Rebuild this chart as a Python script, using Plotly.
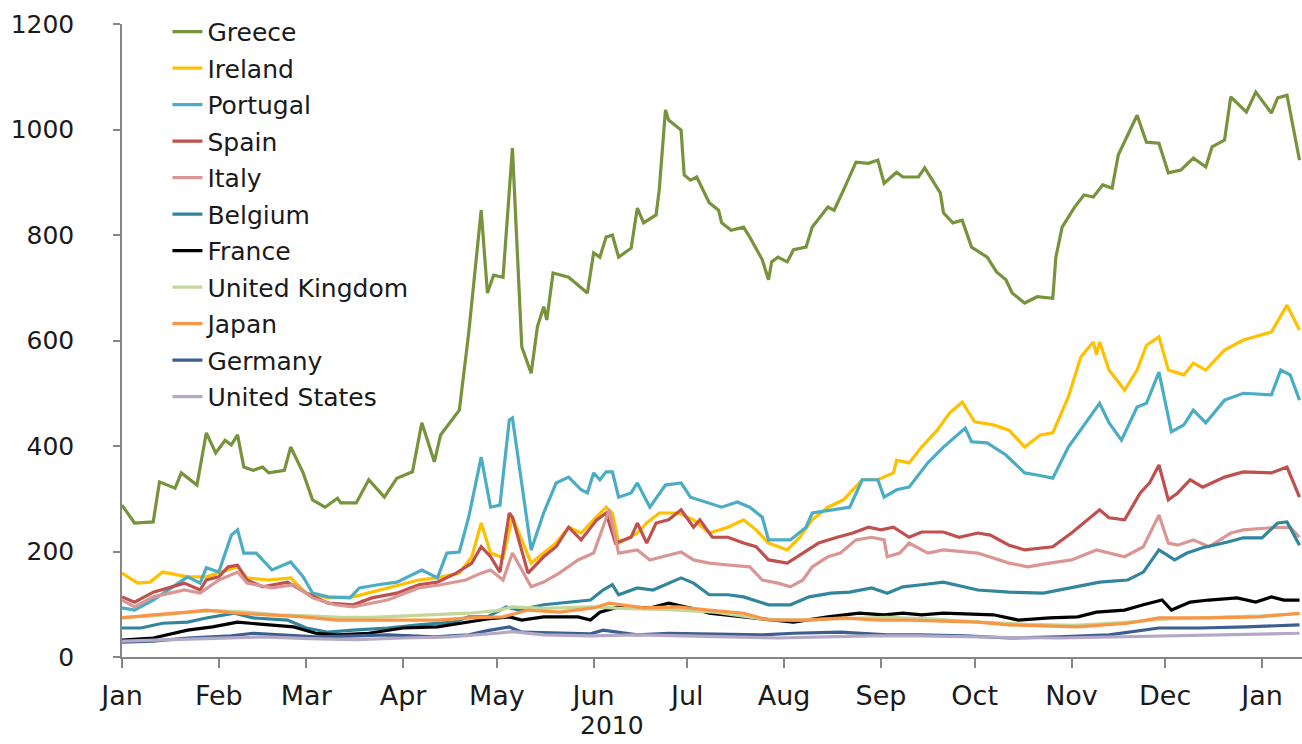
import pandas as pd
import plotly.graph_objects as go

# ---- data (days since 2010-01-01, spread in basis points) ----
greece_days = [0,4,10,12,17,19,24,27,30,33,35,37,39,42,45,47,52,54,58,61,65,69,70,75,79,84,88,93,96,100,102,108,111,115,117,119,122,125,128,131,133,135,136,138,143,149,151,153,155,157,159,163,165,167,171,172,174,175,179,180,182,184,188,191,192,195,199,201,205,207,208,210,213,215,219,221,226,228,231,235,239,242,244,248,250,255,257,262,263,266,269,272,277,280,283,285,289,293,298,299,301,305,308,311,314,317,319,325,328,332,335,339,343,347,349,353,355,360,363,368,370,373,377]
greece_vals = [288,254,256,332,320,349,326,425,387,411,402,421,360,354,360,349,354,398,349,298,284,301,292,292,336,303,339,351,444,370,421,468,614,847,690,724,720,965,588,538,626,664,639,728,720,690,766,758,796,800,758,775,851,823,838,885,1037,1018,999,914,904,910,861,847,823,809,815,796,753,715,749,758,749,772,777,815,853,847,885,938,936,942,898,919,910,910,927,880,842,823,828,777,758,730,715,690,671,683,680,758,815,853,876,872,895,889,952,1027,976,974,918,923,946,929,967,980,1062,1033,1071,1031,1060,1065,942]

ireland_days = [0,5,9,13,21,27,37,40,47,54,59,66,74,85,95,101,108,112,115,118,122,125,131,135,139,143,147,151,155,157,159,165,168,172,178,183,188,194,199,203,207,213,217,221,226,231,237,242,247,248,252,256,261,265,269,273,279,284,289,294,298,303,307,311,312,313,316,321,325,328,332,335,340,343,347,353,359,368,373,377]
ireland_vals = [159,140,142,161,152,152,171,150,146,150,121,112,114,131,146,150,159,190,254,197,188,265,178,197,216,246,235,260,284,273,216,235,254,273,273,260,235,246,260,241,216,203,227,260,284,298,336,336,349,373,368,398,430,463,483,446,440,430,398,421,425,493,569,597,573,597,544,506,544,591,607,544,535,557,544,582,601,616,667,620]

portugal_days = [0,4,10,21,25,27,31,35,37,39,43,48,54,58,61,66,73,76,82,88,96,101,104,108,111,115,118,121,124,125,131,135,139,143,147,149,151,153,155,157,159,163,165,169,174,179,182,188,192,197,201,205,207,214,219,221,227,233,237,242,244,248,252,258,263,270,272,277,283,289,293,298,303,309,313,316,320,325,328,332,336,340,343,347,353,359,368,371,374,377]
portugal_vals = [93,89,108,152,140,169,161,231,241,197,197,165,180,152,121,114,112,131,137,142,165,150,197,199,265,379,284,288,449,453,203,273,330,341,317,311,349,336,351,351,303,311,330,284,326,330,303,292,284,294,284,265,222,222,246,273,279,284,336,336,303,317,322,368,398,434,408,406,383,349,345,339,398,449,481,444,411,474,481,540,427,440,468,444,487,500,497,544,535,487]

spain_days = [0,4,10,15,20,25,27,31,34,37,40,45,53,59,66,74,80,88,95,101,107,112,115,118,121,124,125,130,135,139,143,147,152,155,158,163,165,168,171,175,179,183,185,189,194,199,203,207,213,218,223,229,234,239,243,247,250,252,256,263,268,274,278,284,289,295,298,304,309,313,316,321,326,329,332,335,338,342,346,353,359,368,373,377]
spain_vals = [114,104,123,131,140,127,146,152,171,174,146,133,142,121,102,99,112,121,137,142,159,178,209,190,161,273,265,159,190,209,246,222,260,273,216,227,254,216,254,260,279,246,260,227,227,216,209,184,178,197,216,227,235,246,241,246,235,227,237,237,227,235,231,212,203,207,209,235,260,279,264,260,311,330,364,298,311,336,322,341,351,349,360,303]

italy_days = [0,4,10,20,25,31,37,40,48,55,61,68,74,85,95,102,110,115,118,122,125,131,135,140,146,151,156,159,165,169,173,179,183,188,195,201,205,210,214,218,221,226,230,235,240,244,245,249,252,258,263,274,284,290,297,304,312,321,327,332,335,338,343,348,355,359,368,374,377]
italy_vals = [108,95,114,127,121,146,161,140,131,137,112,99,95,108,131,137,146,159,165,146,197,133,142,159,184,197,279,197,203,184,190,199,184,178,174,171,146,140,133,146,171,190,197,222,227,222,190,197,216,197,203,197,178,171,178,184,203,190,209,269,216,212,222,209,235,241,245,246,227]

belgium_days = [0,6,13,21,27,36,42,53,59,66,74,85,95,106,111,117,123,127,135,143,150,154,157,159,165,170,175,179,183,188,194,199,207,214,220,227,233,240,245,250,256,263,274,284,295,304,313,322,327,332,337,341,346,354,359,365,370,373,377]
belgium_vals = [55,55,64,66,74,83,74,70,55,47,51,55,61,66,76,76,95,89,99,104,108,127,137,118,131,127,140,150,140,118,118,114,99,99,114,121,123,131,121,133,137,142,127,123,121,131,142,146,161,203,184,197,207,218,226,226,254,256,212]

france_days = [0,10,21,29,37,47,55,62,69,79,90,101,111,117,124,128,135,146,150,153,159,169,175,182,188,199,207,215,226,236,244,250,256,263,279,287,297,306,312,321,327,333,336,342,348,357,363,368,372,377]
france_vals = [32,36,51,57,66,61,57,45,42,45,55,57,66,72,76,70,76,76,70,85,95,93,102,93,83,76,70,66,76,83,80,83,80,83,80,70,74,76,85,89,99,108,89,104,108,112,104,114,108,108]

uk_days = [0,10,21,30,40,50,60,70,80,90,100,111,120,125,135,150,160,175,190,205,215,230,245,260,275,290,305,320,335,350,365,377]
uk_vals = [75,78,85,88,85,80,78,75,75,78,80,83,88,95,92,95,92,90,85,72,70,72,75,72,66,62,60,65,72,75,78,82]

japan_days = [0,10,21,27,37,47,58,69,79,90,101,111,122,130,140,151,156,167,178,188,199,207,220,231,242,252,274,284,306,322,332,348,364,377]
japan_vals = [74,80,85,89,83,80,76,70,70,70,70,74,76,89,85,93,102,93,95,89,83,70,70,74,70,70,66,61,57,64,74,74,76,83]

germany_days = [0,10,21,35,42,55,62,75,85,100,111,117,124,128,140,150,154,165,175,190,205,215,230,245,255,270,284,300,316,332,345,360,377]
germany_vals = [28,30,36,40,45,40,38,40,42,38,42,50,57,47,45,44,51,42,45,43,42,45,47,42,42,40,36,38,42,55,55,57,61]

us_days = [0,15,30,45,60,75,90,105,120,125,135,150,165,180,195,210,225,240,255,270,285,300,315,330,345,360,377]
us_vals = [30,33,36,38,35,33,36,38,45,48,42,40,42,40,38,36,38,40,40,38,37,36,38,40,42,44,45]

series_names = ["Greece", "Ireland", "Portugal", "Spain", "Italy", "Belgium", "France",
                "United Kingdom", "Japan", "Germany", "United States"]
series_days = [greece_days, ireland_days, portugal_days, spain_days, italy_days, belgium_days,
               france_days, uk_days, japan_days, germany_days, us_days]
series_vals = [greece_vals, ireland_vals, portugal_vals, spain_vals, italy_vals, belgium_vals,
               france_vals, uk_vals, japan_vals, germany_vals, us_vals]
series_colors = ["#77933C", "#FFC000", "#4BACC6", "#C0504D", "#DA9694", "#31859C", "#000000",
                 "#C4D79B", "#F79646", "#3D5F8F", "#B3A9C7"]

month_ticks = pd.date_range("2010-01-01", "2011-01-01", freq="MS")
month_labels = ["Jan", "Feb", "Mar", "Apr", "May", "Jun", "Jul", "Aug", "Sep", "Oct", "Nov", "Dec", "Jan"]
year_label = "2010"

start = pd.Timestamp("2010-01-01")
FONT = "DejaVu Sans"

fig = go.Figure()
for name, d, v, c in zip(series_names, series_days, series_vals, series_colors):
    fig.add_trace(go.Scatter(
        x=[start + pd.Timedelta(days=k) for k in d], y=v, name=name, mode="lines",
        line=dict(color=c, width=3.2), legendgroup=name,
    ))

fig.update_layout(
    width=1302, height=744,
    margin=dict(l=122, r=0, t=24, b=87),
    paper_bgcolor="white", plot_bgcolor="white",
    font=dict(family=FONT, size=25, color="#1a1a1a"),
    showlegend=True,
    legend=dict(x=0.0385, y=1.024, xanchor="left", yanchor="top",
                font=dict(family=FONT, size=25, color="#1a1a1a"),
                bgcolor="rgba(0,0,0,0)", tracegroupgap=1, itemwidth=30,
                maxheight=700),
    xaxis=dict(
        range=[start, start + pd.Timedelta(days=377.8)],
        tickvals=month_ticks, ticktext=month_labels,
        ticks="outside", ticklen=9, tickcolor="#868686", tickwidth=1.5,
        showline=True, linecolor="#868686", linewidth=1.5,
        showgrid=False, zeroline=False, ticklabelstandoff=5,
        tickfont=dict(family=FONT, size=27, color="#1a1a1a"),
    ),
    yaxis=dict(
        range=[0, 1200], dtick=200,
        ticks="outside", ticklen=7, tickcolor="#868686", tickwidth=1.5,
        showline=True, linecolor="#868686", linewidth=1.5,
        showgrid=False, zeroline=False, ticklabelstandoff=34,
        tickfont=dict(family=FONT, size=25, color="#1a1a1a"),
    ),
    annotations=[dict(text=year_label, x=0.415, y=-0.109, xref="paper", yref="paper",
                      showarrow=False, xanchor="center", yanchor="middle",
                      font=dict(family=FONT, size=25, color="#1a1a1a"))],
)

fig.write_html("out.html")
